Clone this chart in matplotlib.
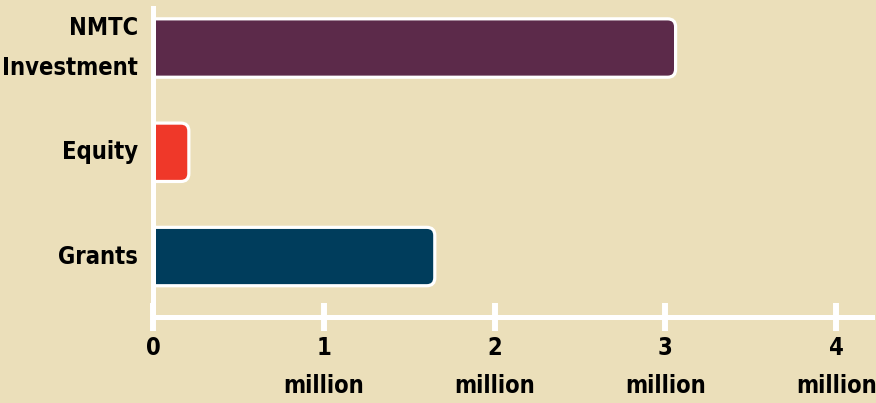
import matplotlib
matplotlib.use("Agg")
import matplotlib.pyplot as plt
from matplotlib.patches import FancyBboxPatch

CATEGORIES = ["NMTC\nInvestment", "Equity", "Grants"]
VALUES = [3.06, 0.21, 1.65]  # millions
COLORS = ["#5c2a4a", "#ef3829", "#003d5c"]
X_TICKS = [0, 1, 2, 3, 4]
X_TICK_LABELS = ["0", "1\nmillion", "2\nmillion", "3\nmillion", "4\nmillion"]

BG = "#ebdfba"
FONT = dict(family="DejaVu Sans", stretch="condensed", weight="bold", size=17)
W, H, DPI = 876, 403, 100

fig = plt.figure(figsize=(W / DPI, H / DPI), dpi=DPI, facecolor=BG)
# axes box in pixels: x 153..872, y 8..317
ax = fig.add_axes([153 / W, (H - 317) / H, (872 - 153) / W, (317 - 8) / H])
ax.set_facecolor(BG)

xmax = 4.21
ymin, ymax = -0.384, 2.58
ax.set_xlim(0, xmax)
ax.set_ylim(ymax, ymin)

px_x = xmax / (872 - 153)          # data units per pixel, x
px_y = (ymax - ymin) / (317 - 8)   # data units per pixel, y
radius = 8 * px_x
bar_h = 0.56

for i, (val, col) in enumerate(zip(VALUES, COLORS)):
    patch = FancyBboxPatch(
        (-radius, i - bar_h / 2), val + radius, bar_h,
        boxstyle=f"round,pad=0,rounding_size={radius}",
        mutation_aspect=px_y / px_x,
        facecolor=col, edgecolor="white", linewidth=2.3, zorder=2,
    )
    ax.add_patch(patch)

for side in ["top", "right"]:
    ax.spines[side].set_visible(False)
for side in ["left", "bottom"]:
    ax.spines[side].set_color("white")
    ax.spines[side].set_linewidth(3.6)
    ax.spines[side].set_zorder(3)

ax.set_yticks(range(len(CATEGORIES)))
ax.set_yticklabels(CATEGORIES, **FONT, linespacing=1.85, ha="right", va="center")
ax.tick_params(axis="y", length=0, pad=11)

ax.set_xticks(X_TICKS)
ax.set_xticklabels(X_TICK_LABELS, **FONT, linespacing=1.7, va="top")
ax.tick_params(axis="x", direction="inout", length=20, width=4.3, color="white", pad=4)
for t in ax.xaxis.get_major_ticks():
    t.tick1line.set_zorder(3)

fig.savefig("out.png", dpi=DPI, facecolor=BG)
